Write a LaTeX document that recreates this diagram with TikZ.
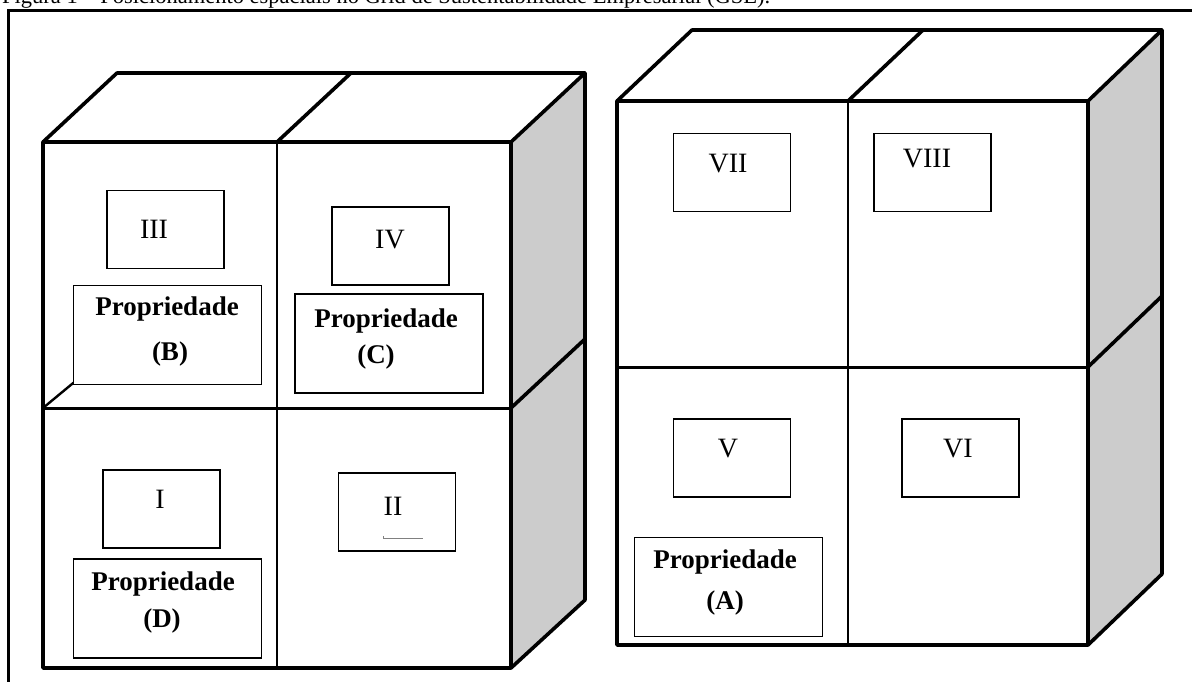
\documentclass[tikz,border=0pt]{standalone}
\usepackage{fontspec}
\setmainfont{Liberation Serif}

\definecolor{sidegray}{gray}{0.8}

\begin{document}
\begin{tikzpicture}[x=1pt,y=-1pt,
  cube/.style={line width=3.6pt,line join=round},
  divline/.style={line width=3pt},
  numbox/.style={draw,line width=1.9pt,fill=white,minimum width=117pt,minimum height=78pt,inner sep=0pt},
  propbox/.style={draw,line width=1.9pt,fill=white,minimum width=188pt,minimum height=99pt,inner sep=0pt},
  numtext/.style={anchor=base,inner sep=0pt,font=\fontsize{28}{30}\selectfont},
  proptext/.style={anchor=base,inner sep=0pt,font=\fontsize{27}{29}\selectfont\bfseries}]
\useasboundingbox (0,0) rectangle (1192,681);
\clip (0,0) rectangle (1192,681);

% caption, cut by the page top
\node[anchor=base west,inner sep=0pt,font=\fontsize{22.5}{24}\selectfont] (cap) at (2,3)
  {Figura 1 -- Posicionamento espaciais no Grid de Sustentabilidade Empresarial (GSE).};
\draw[line width=3pt] (8,690) -- (8,10) -- (1200,10);

% left cube
\filldraw[cube,fill=sidegray] (511,142) -- (585,73) -- (585,600) -- (511,668) -- cycle;
\draw[cube] (43,142) -- (117,73) -- (585,73);
\draw[cube] (277,142) -- (351,73);
\draw[cube] (511,408) -- (585,339);
\draw[line width=2.4pt] (43,408) -- (78,379);
\draw[cube] (43,142) rectangle (511,668);
\draw[divline] (43,408) -- (511,408);
\draw[line width=2.4pt] (277,142) -- (277,668);

% right cube
\filldraw[cube,fill=sidegray] (1088,101) -- (1162,30) -- (1162,574) -- (1088,645) -- cycle;
\draw[cube] (617,101) -- (692,30) -- (1162,30);
\draw[cube] (848,101) -- (923,30);
\draw[cube] (1088,367) -- (1162,296);
\draw[cube] (617,101) rectangle (1088,645);
\draw[divline] (617,367) -- (1088,367);
\draw[line width=2.4pt] (848,101) -- (848,645);

% boxes of the left cube
\node[numbox] (boxIII) at (165.5,229.5) {};
\node[numbox] (boxIV) at (390.5,246) {};
\node[numbox] (boxI) at (161.5,509) {};
\node[numbox] (boxII) at (397,512) {};
\node[propbox] (propB) at (167.5,335) {};
\node[propbox] (propC) at (389,343.5) {};
\node[propbox] (propD) at (167.5,608.5) {};
\draw[gray,line width=0.8pt] (383,536) -- (383,538) -- (423,538);

% boxes of the right cube
\node[numbox] (boxVII) at (732,172.5) {};
\node[numbox] (boxVIII) at (932.5,172.5) {};
\node[numbox] (boxV) at (732,458) {};
\node[numbox] (boxVI) at (960.5,458) {};
\node[propbox] (propA) at (728.5,587) {};

% labels
\node[numtext] (lIII) at (154,238) {III};
\node[numtext] (lIV) at (390,248) {IV};
\node[numtext] (lI) at (160,508) {I};
\node[numtext] (lII) at (393,515) {II};
\node[numtext] (lVII) at (728,172) {VII};
\node[numtext] (lVIII) at (927,167) {VIII};
\node[numtext] (lV) at (728,457) {V};
\node[numtext] (lVI) at (958,457) {VI};
\node[proptext] (tB) at (167,315) {Propriedade};
\node[proptext] (tB2) at (170,360) {(B)};
\node[proptext] (tC) at (386,327) {Propriedade};
\node[proptext] (tC2) at (376,363) {(C)};
\node[proptext] (tD) at (163,590) {Propriedade};
\node[proptext] (tD2) at (162,627) {(D)};
\node[proptext] (tA) at (725,568) {Propriedade};
\node[proptext] (tA2) at (725,609) {(A)};
\end{tikzpicture}
\end{document}
